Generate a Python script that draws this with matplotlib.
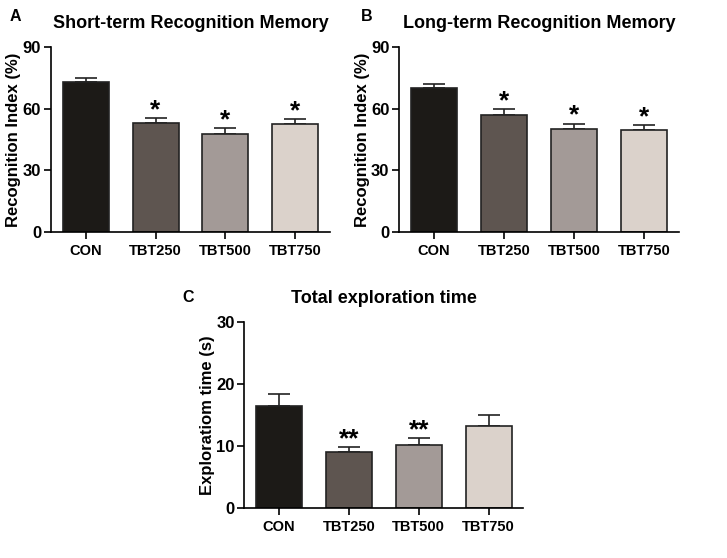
import numpy as np
import matplotlib.pyplot as plt

plt.rcParams['font.family'] = ['Liberation Sans', 'DejaVu Sans']
plt.rcParams['font.weight'] = 'bold'

groups = ["CON", "TBT250", "TBT500", "TBT750"]
colors = ["#1c1a17", "#5e5550", "#a39a97", "#dbd2cb"]

short_mean = [73.0, 53.3, 47.8, 52.8]
short_err = [2.0, 2.3, 2.9, 2.3]
short_sig = ["", "*", "*", "*"]

long_mean = [70.1, 56.9, 50.2, 49.6]
long_err = [1.8, 3.0, 2.6, 2.4]
long_sig = ["", "*", "*", "*"]

time_mean = [16.4, 9.1, 10.1, 13.3]
time_err = [2.0, 0.8, 1.2, 1.7]
time_sig = ["", "**", "**", ""]

fig = plt.figure(figsize=(7.27, 5.58), dpi=100)


def panel(rect, means, errs, sigs, ymax, step, ylabel, title, letter, letter_xy):
    ax = fig.add_axes(rect)
    x = np.arange(len(groups))
    ax.bar(x, means, width=0.66, color=colors, edgecolor="#222222", linewidth=1.2, zorder=2)
    ax.errorbar(x, means, yerr=[np.zeros(len(errs)), errs], fmt="none",
                ecolor="#222222", elinewidth=1.2, capsize=8, capthick=1.2, zorder=1)
    for xi, m, e, s in zip(x, means, errs, sigs):
        if s:
            ax.annotate(s, (xi, m + e), xytext=(0, -3), textcoords="offset points",
                        ha="center", va="bottom", fontsize=19, fontweight="bold")
    ax.set_xlim(-0.5, 3.5)
    ax.set_ylim(0, ymax)
    ax.set_yticks(np.arange(0, ymax + 1, step))
    ax.set_xticks(x)
    ax.set_xticklabels(groups, fontsize=10.5, fontweight="bold")
    ax.tick_params(axis="y", labelsize=12, width=1.2, length=5, pad=2)
    ax.tick_params(axis="x", width=1.2, length=5)
    for lab in ax.get_yticklabels():
        lab.set_fontweight("bold")
    ax.spines["top"].set_visible(False)
    ax.spines["right"].set_visible(False)
    ax.spines["left"].set_linewidth(1.2)
    ax.spines["bottom"].set_linewidth(1.2)
    ax.set_ylabel(ylabel, fontsize=12, fontweight="bold", labelpad=1)
    ax.set_title(title, fontsize=13, fontweight="bold", pad=14)
    fig.text(letter_xy[0], letter_xy[1], letter, fontsize=11.5, fontweight="bold",
             ha="left", va="center")
    return ax


panel([0.070, 0.584, 0.384, 0.3315], short_mean, short_err, short_sig, 90, 30,
      "Recognition Index (%)", "Short-term Recognition Memory", "A", (0.013, 0.970))
panel([0.549, 0.584, 0.385, 0.3315], long_mean, long_err, long_sig, 90, 30,
      "Recognition Index (%)", "Long-term Recognition Memory", "B", (0.497, 0.970))
panel([0.336, 0.0896, 0.384, 0.333], time_mean, time_err, time_sig, 30, 10,
      "Exploratiom time (s)", "Total exploration time", "C", (0.251, 0.466))

fig.savefig("out.png", dpi=100)
